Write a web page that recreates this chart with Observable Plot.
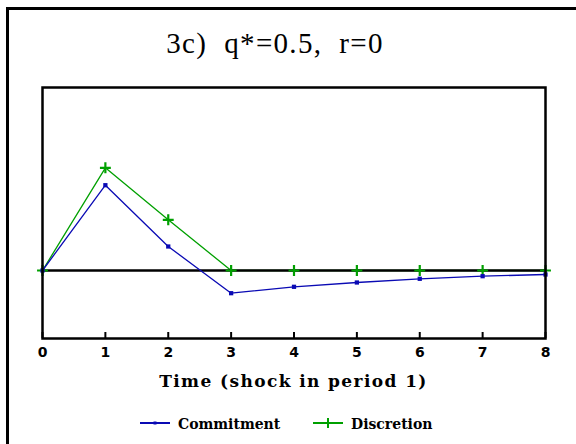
<!DOCTYPE html>
<html>
<head>
<meta charset="utf-8">
<script src="https://cdn.jsdelivr.net/npm/d3@7"></script>
<script src="https://cdn.jsdelivr.net/npm/@observablehq/plot@0.6"></script>
<style>
  html, body { margin: 0; padding: 0; background: #fff; }
  #wrap { position: relative; width: 576px; height: 444px; overflow: hidden; background: #fff; }
  #frameL { position: absolute; left: 6px; top: 7px; width: 3px; height: 437px; background: #000; }
  #frameT { position: absolute; left: 6px; top: 7px; width: 570px; height: 3px; background: #000; }
  #title { position: absolute; left: 0; width: 550px; top: 27px; text-align: center;
           font-family: "Liberation Serif", "DejaVu Serif", serif; font-size: 29px; letter-spacing: 1.3px; color: #000; white-space: pre; }
  #xlabel { position: absolute; left: 42px; width: 503px; top: 371px; text-align: center;
            font-family: "DejaVu Serif", serif; font-weight: bold; font-size: 17px; letter-spacing: 1.4px; color: #000; white-space: pre; }
  #legend { position: absolute; left: 0; top: 415px; width: 576px; height: 20px;
            font-family: "DejaVu Serif", serif; font-weight: bold; font-size: 14px; color: #000; }
  .lg { position: absolute; top: 0; display: flex; align-items: center; }
  .lg svg { display: block; }
  svg.plot { position: absolute; left: 0; top: 0; }
</style>
</head>
<body>
<div id="wrap">
  <div id="frameL"></div>
  <div id="frameT"></div>
  <div id="title"></div>
  <div id="xlabel"></div>
  <div id="legend"></div>
</div>
<script>
const titleText = "3c)  q*=0.5,  r=0";
const xLabelText = "Time (shock in period 1)";
const periods = [0, 1, 2, 3, 4, 5, 6, 7, 8];
const commitment = [0, 0.853, 0.24, -0.227, -0.163, -0.12, -0.083, -0.057, -0.04];
const discretion = [0, 1.027, 0.507, 0, 0, 0, 0, 0, 0];
const seriesNames = ["Commitment", "Discretion"];
const seriesColors = ["#0a0ab4", "#00a000"];
const xTicks = [0, 1, 2, 3, 4, 5, 6, 7, 8];
const yDomain = [-0.68, 1.83];

const rows = [];
periods.forEach((t, i) => {
  rows.push({t, v: commitment[i], s: seriesNames[0]});
  rows.push({t, v: discretion[i], s: seriesNames[1]});
});
const com = rows.filter(d => d.s === seriesNames[0]);
const dis = rows.filter(d => d.s === seriesNames[1]);

document.getElementById("title").textContent = titleText;
document.getElementById("xlabel").textContent = xLabelText;

const chart = Plot.plot({
  width: 576,
  height: 444,
  marginLeft: 42,
  marginRight: 31,
  marginTop: 87,
  marginBottom: 106,
  x: {domain: [0, 8]},
  y: {domain: yDomain},
  marks: [
    Plot.tickX(xTicks, {x: d => d, insetTop: 245, stroke: "#000", strokeWidth: 2}),
    Plot.line(dis, {x: "t", y: "v", stroke: seriesColors[1], strokeWidth: 1.3}),
    Plot.ruleY([0], {stroke: "#000", strokeWidth: 2.5}),
    Plot.dot(dis, {x: "t", y: "v", symbol: "plus", r: 3.6, stroke: seriesColors[1], strokeWidth: 2.2}),
    Plot.line(com, {x: "t", y: "v", stroke: seriesColors[0], strokeWidth: 1.3}),
    Plot.dot(com, {x: "t", y: "v", symbol: "square", r: 2.4, fill: seriesColors[0], stroke: "none"}),
    Plot.frame({stroke: "#000", strokeWidth: 2.5}),
    Plot.axisX(xTicks, {tickSize: 0, tickPadding: 9, fontSize: 14, fontWeight: "bold",
      fontFamily: "DejaVu Sans, sans-serif", fill: "#000", label: null}),
    Plot.axisY({ticks: [], label: null, tickSize: 0})
  ],
  style: {background: "transparent", overflow: "visible"}
});
document.getElementById("wrap").insertBefore(chart, document.getElementById("title"));

// legend
const leg = document.getElementById("legend");
const items = [
  {name: seriesNames[0], color: seriesColors[0], left: 140, sym: "sq"},
  {name: seriesNames[1], color: seriesColors[1], left: 313, sym: "plus"}
];
items.forEach(it => {
  const div = document.createElement("div");
  div.className = "lg";
  div.style.left = it.left + "px";
  const s = d3.create("svg").attr("width", 38).attr("height", 18);
  s.append("line").attr("x1", 0).attr("x2", 30).attr("y1", 8).attr("y2", 8)
    .attr("stroke", it.color).attr("stroke-width", 2);
  if (it.sym === "sq") {
    s.append("rect").attr("x", 13.5).attr("y", 6.5).attr("width", 3).attr("height", 3).attr("fill", it.color);
  } else {
    s.append("line").attr("x1", 15).attr("x2", 15).attr("y1", 3).attr("y2", 13)
      .attr("stroke", it.color).attr("stroke-width", 2);
  }
  div.appendChild(s.node());
  const sp = document.createElement("span");
  sp.textContent = it.name;
  div.appendChild(sp);
  leg.appendChild(div);
});
</script>
</body>
</html>
